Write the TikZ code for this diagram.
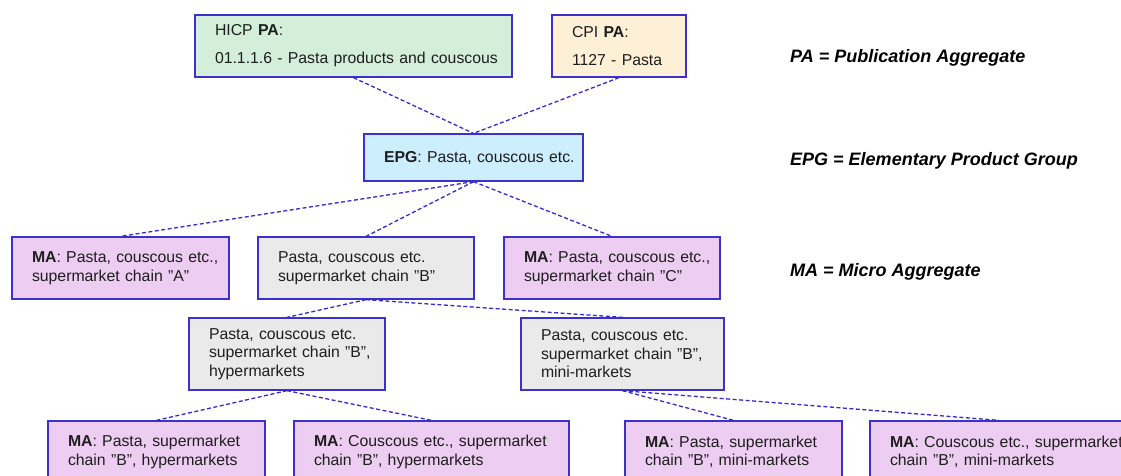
\documentclass[tikz,border=0pt]{standalone}
\usepackage{fontspec}
\setmainfont{Liberation Sans}
\definecolor{bordercol}{HTML}{3D31CC}
\definecolor{linecol}{HTML}{3828D0}
\definecolor{greenfill}{HTML}{D3EFDA}
\definecolor{yellowfill}{HTML}{FDF0D6}
\definecolor{bluefill}{HTML}{CDEEFC}
\definecolor{purplefill}{HTML}{EDCDF1}
\definecolor{greyfill}{HTML}{EAEAEA}
\definecolor{textcol}{HTML}{1E1E1E}
\tikzset{
  box/.style={draw=bordercol, line width=1.3pt, inner xsep=20pt, inner ysep=0pt,
    align=left, text=textcol, font=\fontsize{15.8}{18.5}\selectfont, anchor=center},
  conn/.style={draw=linecol, line width=1.3pt, dash pattern=on 4pt off 2.5pt},
  legend/.style={anchor=base west, text=black, font=\fontsize{18}{22}\selectfont\bfseries\itshape, inner sep=0pt}
}
\begin{document}
\begin{tikzpicture}[x=1pt,y=-1pt]
\useasboundingbox (0,0) rectangle (1121,475);
\clip (0,0) rectangle (1121,475);
% row 1
\node[box, fill=greenfill, minimum height=62pt, text width=277pt] (hicp) at (353.5,46)
  {\mbox{HICP \textbf{PA}:}\\[9.5pt]\mbox{01.1.1.6 - Pasta products and couscous}};
\node[box, fill=yellowfill, minimum height=62pt, text width=94pt] (cpi) at (619,46)
  {\mbox{CPI \textbf{PA}:}\\[9.5pt]\mbox{1127 - Pasta}};
% row 2
\node[box, fill=bluefill, minimum height=47pt, text width=179pt] (epg) at (473.5,157.5)
  {\mbox{\textbf{EPG}: Pasta, couscous etc.}};
% row 3
\node[box, fill=purplefill, minimum height=62pt, text width=177pt] (maA) at (120.5,268)
  {\mbox{\textbf{MA}: Pasta, couscous etc.,}\\\mbox{supermarket chain "A”}};
\node[box, fill=greyfill, minimum height=62pt, text width=176pt] (chB) at (366,268)
  {\mbox{Pasta, couscous etc.}\\\mbox{supermarket chain ”B”}};
\node[box, fill=purplefill, minimum height=62pt, text width=176pt] (maC) at (612,268)
  {\mbox{\textbf{MA}: Pasta, couscous etc.,}\\\mbox{supermarket chain "C"}};
% row 4
\node[box, fill=greyfill, minimum height=72pt, text width=156pt] (hyp) at (287,354)
  {\mbox{Pasta, couscous etc.}\\\mbox{supermarket chain ”B”,}\\\mbox{hypermarkets}};
\node[box, fill=greyfill, minimum height=72pt, text width=163pt] (mini) at (622.5,354)
  {\mbox{Pasta, couscous etc.}\\\mbox{supermarket chain "B",}\\\mbox{mini-markets}};
% row 5
\node[box, fill=purplefill, minimum height=62pt, text width=177pt] (mph) at (156.5,452)
  {\mbox{\textbf{MA}: Pasta, supermarket}\\\mbox{chain ”B”, hypermarkets}};
\node[box, fill=purplefill, minimum height=62pt, text width=235pt] (mch) at (431.5,452)
  {\mbox{\textbf{MA}: Couscous etc., supermarket}\\\mbox{chain ”B”, hypermarkets}};
\node[box, fill=purplefill, minimum height=62pt, text width=177pt] (mpm) at (733.5,452)
  {\mbox{\textbf{MA}: Pasta, supermarket}\\\mbox{chain "B", mini-markets}};
\node[box, fill=purplefill, minimum height=62pt, text width=218pt] (mcm) at (999,452)
  {\mbox{\textbf{MA}: Couscous etc., supermarket}\\\mbox{chain "B", mini-markets}};
% legend
\node[legend] (lpa) at (790,62) {PA = Publication Aggregate};
\node[legend] (lepg) at (790,165) {EPG = Elementary Product Group};
\node[legend] (lma) at (790,276) {MA = Micro Aggregate};
% connectors
\draw[conn] (hicp.south) -- (epg.north);
\draw[conn] (cpi.south) -- (epg.north);
\draw[conn] (epg.south) -- (maA.north);
\draw[conn] (epg.south) -- (chB.north);
\draw[conn] (epg.south) -- (maC.north);
\draw[conn] (chB.south) -- (hyp.north);
\draw[conn] (chB.south) -- (mini.north);
\draw[conn] (hyp.south) -- (mph.north);
\draw[conn] (hyp.south) -- (mch.north);
\draw[conn] (mini.south) -- (mpm.north);
\draw[conn] (mini.south) -- (mcm.north);
\end{tikzpicture}
\end{document}
